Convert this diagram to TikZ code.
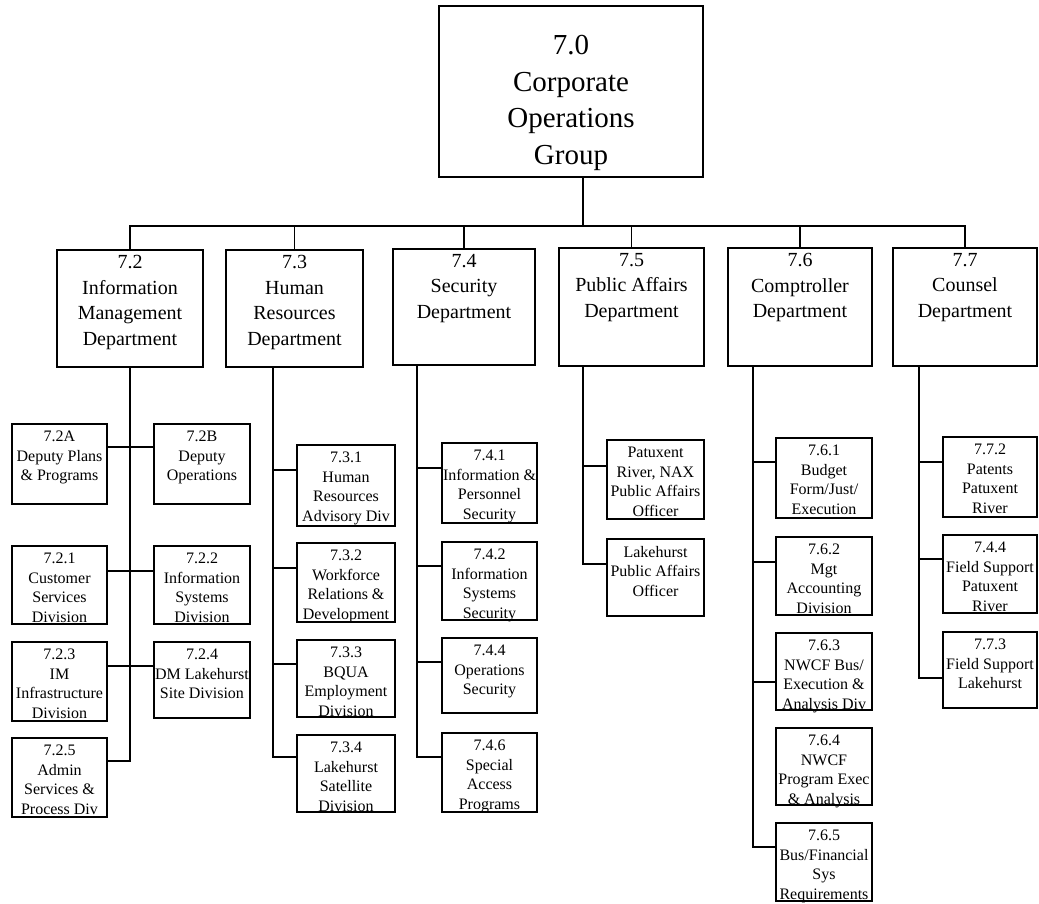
\documentclass[tikz,border=0pt]{standalone}
\usepackage{fontspec}
\setmainfont{Liberation Serif}
\newcommand\obox[8]{%
  \node[boxst, minimum width={#6-#4}, minimum height={#7-#5}] (#1) at ({(#4+#6)/2},{(#5+#7)/2}) {};
  \node[#2, anchor=north, yshift=-#3pt] (#1t) at (#1.north) {#8};}
\tikzset{
  ln/.style={line width=1.8pt},
  boxst/.style={draw, line width=1.8pt, inner sep=0pt},
  toptxt/.style={inner sep=0pt, align=center, font=\fontsize{29}{36.5}\selectfont},
  dtxt/.style={inner sep=0pt, align=center, font=\fontsize{20}{25.5}\selectfont},
  stxt/.style={inner sep=0pt, align=center, font=\fontsize{16}{19.5}\selectfont},
}
\begin{document}
\begin{tikzpicture}[x=1pt,y=-1pt]
\useasboundingbox[fill=white] (0,0) rectangle (1039,903);
% top
\obox{top}{toptxt}{30}{439}{6}{703}{177}{7.0\\Corporate\\Operations\\Group}
% departments
\obox{d72}{dtxt}{6}{57}{250}{203}{367}{7.2\\Information\\Management\\Department}
\obox{d73}{dtxt}{6}{226}{250}{363}{367}{7.3\\Human\\Resources\\Department}
\obox{d74}{dtxt}{6}{393}{249}{535}{365}{7.4\\Security\\Department}
\obox{d75}{dtxt}{6}{559}{248}{704}{366}{7.5\\Public Affairs\\Department}
\obox{d76}{dtxt}{6}{728}{248}{872}{366}{7.6\\Comptroller\\Department}
\obox{d77}{dtxt}{6}{893}{248}{1037}{366}{7.7\\Counsel\\Department}
% 7.2 column
\obox{b72A}{stxt}{8}{12}{424}{107}{504}{7.2A\\Deputy Plans\\\& Programs}
\obox{b72B}{stxt}{8}{154}{424}{250}{504}{7.2B\\Deputy\\Operations}
\obox{b721}{stxt}{8}{12}{546}{107}{624}{7.2.1\\Customer\\Services\\Division}
\obox{b722}{stxt}{8}{154}{546}{250}{624}{7.2.2\\Information\\Systems\\Division}
\obox{b723}{stxt}{8}{12}{642}{107}{721}{7.2.3\\IM\\Infrastructure\\Division}
\obox{b724}{stxt}{8}{154}{642}{250}{718}{7.2.4\\DM Lakehurst\\Site Division}
\obox{b725}{stxt}{8}{12}{738}{107}{817}{7.2.5\\Admin\\Services \&\\Process Div}
% 7.3 column
\obox{b731}{stxt}{8}{297}{445}{395}{526}{7.3.1\\Human\\Resources\\Advisory Div}
\obox{b732}{stxt}{8}{297}{543}{395}{622}{7.3.2\\Workforce\\Relations \&\\Development}
\obox{b733}{stxt}{8}{297}{640}{395}{717}{7.3.3\\BQUA\\Employment\\Division}
\obox{b734}{stxt}{8}{297}{735}{395}{812}{7.3.4\\Lakehurst\\Satellite\\Division}
% 7.4 column
\obox{b741}{stxt}{8}{442}{443}{537}{523}{7.4.1\\Information \&\\Personnel\\Security}
\obox{b742}{stxt}{8}{442}{542}{537}{620}{7.4.2\\Information\\Systems\\Security}
\obox{b744}{stxt}{8}{442}{638}{537}{713}{7.4.4\\Operations\\Security}
\obox{b746}{stxt}{8}{442}{733}{537}{812}{7.4.6\\Special\\Access\\Programs}
% 7.5 column
\obox{b751}{stxt}{8}{607}{440}{704}{519}{Patuxent\\River, NAX\\Public Affairs\\Officer}
\obox{b752}{stxt}{8}{607}{539}{704}{616}{Lakehurst\\Public Affairs\\Officer}
% 7.6 column
\obox{b761}{stxt}{8}{776}{438}{872}{518}{7.6.1\\Budget\\Form/Just/\\Execution}
\obox{b762}{stxt}{8}{776}{537}{872}{615}{7.6.2\\Mgt\\Accounting\\Division}
\obox{b763}{stxt}{8}{776}{633}{872}{710}{7.6.3\\NWCF Bus/\\Execution \&\\Analysis Div}
\obox{b764}{stxt}{8}{776}{728}{872}{805}{7.6.4\\NWCF\\Program Exec\\\& Analysis}
\obox{b765}{stxt}{8}{776}{823}{872}{901}{7.6.5\\Bus/Financial\\Sys\\Requirements}
% 7.7 column
\obox{b772}{stxt}{8}{943}{437}{1037}{517}{7.7.2\\Patents\\Patuxent\\River}
\obox{b774}{stxt}{8}{943}{535}{1037}{613}{7.4.4\\Field Support\\Patuxent\\River}
\obox{b773}{stxt}{8}{943}{632}{1037}{708}{7.7.3\\Field Support\\Lakehurst}
% bus
\coordinate (bus) at (583,226);
\draw[ln] (top.south -| bus) -- (bus);
\draw[ln] (d72.north) |- (bus);
\draw[ln] (d77.north) |- (bus);
\foreach \d in {d73,d74,d75,d76}{\draw[ln] (\d.north) -- (\d.north |- bus);}
% spine tops
\coordinate (s73) at (273,367);
\coordinate (s74) at (417,365);
\coordinate (s75) at (583,366);
\coordinate (s76) at (753,366);
\coordinate (s77) at (919,366);
% 7.2
\draw[ln] (d72.south) |- ([yshift=-24pt]b725.north east);
\draw[ln] ([yshift=-24pt]b72A.north east) -- ([yshift=-24pt]b72B.north west);
\draw[ln] ([yshift=-26pt]b721.north east) -- ([yshift=-26pt]b722.north west);
\draw[ln] ([yshift=-25pt]b723.north east) -- ([yshift=-25pt]b724.north west);
% 7.3
\draw[ln] (s73) |- ([yshift=-23pt]b734.north west);
\draw[ln] ([yshift=-26pt]b731.north west) -| (s73);
\draw[ln] ([yshift=-26pt]b732.north west) -| (s73);
\draw[ln] ([yshift=-25pt]b733.north west) -| (s73);
% 7.4
\draw[ln] (s74) |- ([yshift=-25pt]b746.north west);
\draw[ln] ([yshift=-26pt]b741.north west) -| (s74);
\draw[ln] ([yshift=-25pt]b742.north west) -| (s74);
\draw[ln] ([yshift=-25pt]b744.north west) -| (s74);
% 7.5
\draw[ln] (s75) |- ([yshift=-26pt]b752.north west);
\draw[ln] ([yshift=-27pt]b751.north west) -| (s75);
% 7.6
\draw[ln] (s76) |- ([yshift=-25pt]b765.north west);
\draw[ln] ([yshift=-25pt]b761.north west) -| (s76);
\draw[ln] ([yshift=-26pt]b762.north west) -| (s76);
\draw[ln] ([yshift=-50pt]b763.north west) -| (s76);
% 7.7
\draw[ln] (s77) |- ([yshift=-47pt]b773.north west);
\draw[ln] ([yshift=-26pt]b772.north west) -| (s77);
\draw[ln] ([yshift=-25pt]b774.north west) -| (s77);
\end{tikzpicture}
\end{document}
